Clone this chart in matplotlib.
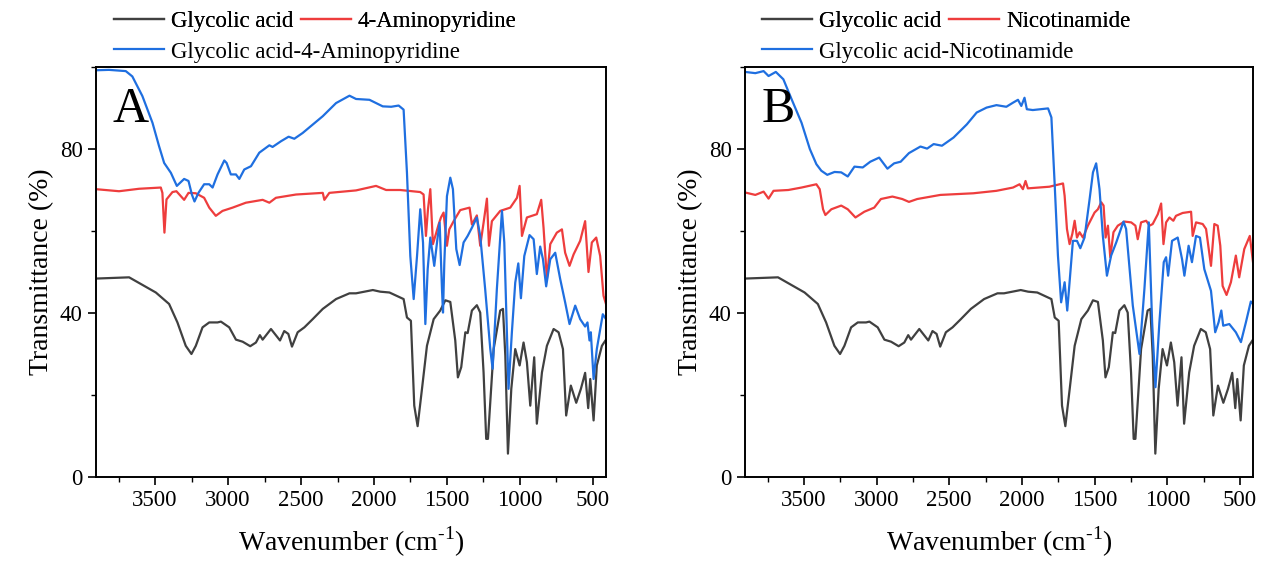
#!/usr/bin/env python3
"""FTIR spectra: glycolic acid co-crystals with 4-aminopyridine (A) and nicotinamide (B)."""

import matplotlib
matplotlib.use("Agg")
import matplotlib.pyplot as plt
from matplotlib.lines import Line2D
from matplotlib.ticker import MultipleLocator

# glycolic acid (same spectrum in both panels)
ga_wn = [3905, 3678, 3495, 3404, 3347, 3290, 3251, 3221, 3175, 3129, 3072, 3049, 2992, 2946, 2900,
         2848, 2809, 2782, 2763, 2706, 2644, 2615, 2587, 2562, 2523, 2477, 2420, 2351, 2260, 2168,
         2123, 2008, 1957, 1894, 1797, 1774, 1747, 1724, 1701, 1671, 1637, 1591, 1546, 1511, 1477,
         1443, 1425, 1402, 1374, 1358, 1329, 1295, 1272, 1249, 1231, 1219, 1180, 1135, 1116, 1100,
         1082, 1059, 1032, 1002, 975, 952, 929, 902, 884, 849, 815, 769, 735, 705, 683,
         651, 614, 582, 553, 532, 518, 495, 473, 438, 410]
ga_t = [48.4, 48.7, 45, 42.2, 37.7, 32, 30, 32, 36.5, 37.7, 37.7, 37.9, 36.5, 33.5, 33,
        31.9, 32.8, 34.6, 33.5, 36.1, 33.3, 35.6, 34.9, 31.8, 35.3, 36.5, 38.5, 41, 43.4, 44.8,
        44.8, 45.6, 45.2, 45, 43.4, 38.9, 38.1, 17.4, 12.4, 21.5, 32, 38.5, 40.6, 43.1, 42.7,
        33.3, 24.3, 26.8, 35.3, 35.1, 40.6, 41.9, 40.1, 25.5, 9.3, 9.3, 31.2, 40.6, 41, 29.6,
        5.7, 21.5, 31.2, 27.2, 32.8, 28, 17.4, 29.2, 13, 25.5, 32, 36.1, 35.3, 31.2, 15,
        22.3, 18.1, 21.5, 25.4, 16.8, 23.9, 13.8, 27.2, 32, 33.5]

# 4-aminopyridine
ap_wn = [3905, 3747, 3610, 3461, 3450, 3436, 3422, 3381, 3354, 3301, 3271, 3221, 3164, 3129, 3084,
         3038, 2969, 2878, 2763, 2717, 2672, 2534, 2351, 2340, 2306, 2123, 1986, 1917, 1820, 1683,
         1660, 1644, 1630, 1614, 1596, 1573, 1557, 1541, 1523, 1500, 1484, 1454, 1409, 1345, 1329,
         1295, 1272, 1249, 1226, 1212, 1192, 1135, 1066, 1020, 1002, 986, 952, 884, 854, 838,
         815, 792, 747, 712, 690, 660, 632, 587, 553, 530, 507, 477, 450, 427, 410]
ap_t = [70.2, 69.7, 70.3, 70.6, 69.3, 59.6, 67.7, 69.5, 69.7, 67.6, 69.3, 69.2, 68.1, 65.7, 63.7,
        64.9, 65.7, 66.9, 67.6, 66.9, 68.1, 68.9, 69.3, 67.6, 69.3, 69.9, 71, 70, 70, 69.5,
        68.9, 58.8, 65.3, 70.2, 56.8, 59.6, 61.6, 63.3, 64.5, 56.4, 60.4, 62.4, 65.1, 65.7, 61.6,
        63.8, 56.4, 62, 67.9, 56.4, 62.4, 64.9, 65.7, 68.1, 71, 58.8, 63.3, 64.1, 67.6, 60.8,
        48.3, 56.8, 59.6, 60.4, 54.7, 51.5, 54.3, 57.6, 62.4, 50, 57.2, 58.4, 53.9, 44.2, 42.2]

# glycolic acid-4-aminopyridine
ga_ap_wn = [3905, 3816, 3701, 3656, 3587, 3518, 3473, 3438, 3392, 3351, 3301, 3271, 3248, 3230, 3203,
            3164, 3129, 3106, 3072, 3026, 3010, 2981, 2946, 2923, 2889, 2843, 2786, 2717, 2695, 2637,
            2585, 2546, 2489, 2351, 2260, 2168, 2123, 2031, 1940, 1882, 1831, 1797, 1774, 1751, 1728,
            1705, 1683, 1664, 1648, 1632, 1614, 1587, 1564, 1550, 1534, 1527, 1518, 1500, 1477, 1459,
            1436, 1413, 1386, 1358, 1329, 1295, 1272, 1238, 1203, 1187, 1158, 1123, 1107, 1078, 1055,
            1032, 1011, 993, 970, 934, 906, 884, 861, 842, 820, 792, 758, 724, 690, 660,
            621, 587, 553, 537, 523, 514, 495, 473, 432, 410]
ga_ap_t = [99.2, 99.3, 99, 97.7, 92.9, 86.4, 80.7, 76.6, 74.2, 71, 72.7, 72.2, 68.9, 67.2, 69.3,
           71.4, 71.4, 70.6, 73.8, 77.2, 76.6, 73.8, 73.8, 72.7, 75, 75.8, 79.1, 80.9, 80.5, 81.9,
           83, 82.5, 83.9, 88, 91.2, 93, 92.2, 92, 90.4, 90.3, 90.6, 89.6, 74.2, 53.9, 43.4,
           53.9, 65.3, 57.2, 37.3, 50.7, 58.4, 51.5, 58.4, 62, 45.8, 40.1, 52.3, 68.5, 73, 70.2,
           55.6, 51.7, 57.2, 58.8, 60.8, 63.3, 58.8, 45.8, 31.2, 26.4, 45.8, 64.9, 57.2, 21.5, 35.3,
           47.4, 52.1, 43.6, 53.9, 59, 58, 49.5, 56.2, 53.1, 46.5, 53.1, 54.7, 48.3, 42.6, 37.3,
           41.8, 38.5, 36.7, 37.7, 33.3, 35.3, 23.9, 31.2, 39.7, 38.5]

# nicotinamide
nic_wn = [3905, 3834, 3777, 3743, 3709, 3607, 3516, 3414, 3391, 3368, 3352, 3311, 3243, 3198, 3145,
          3084, 3016, 2970, 2891, 2823, 2777, 2720, 2561, 2334, 2175, 2061, 2016, 1993, 1975, 1959,
          1811, 1717, 1706, 1690, 1672, 1653, 1637, 1621, 1603, 1580, 1546, 1500, 1477, 1454, 1438,
          1424, 1408, 1392, 1370, 1340, 1294, 1248, 1219, 1203, 1180, 1145, 1122, 1100, 1065, 1042,
          1026, 1008, 985, 958, 940, 894, 836, 825, 802, 756, 733, 699, 676, 653, 635,
          619, 592, 562, 528, 505, 470, 432, 410]
nic_t = [69.4, 68.8, 69.6, 67.9, 69.8, 70, 70.6, 71.4, 70.2, 65.3, 63.9, 65.3, 66.2, 65.3, 63.3,
         64.7, 65.7, 67.8, 68.4, 67.8, 67.1, 67.8, 68.8, 69.2, 69.8, 70.6, 71.4, 70.2, 72.2, 70.4,
         70.8, 71.6, 68.6, 60.5, 56.8, 59.3, 62.5, 58.4, 59.7, 58.4, 61.3, 64.5, 65.3, 67, 66.2,
         58.4, 61.3, 53.6, 59.7, 61.3, 62.3, 62.1, 61.3, 58, 62.1, 62.5, 61.3, 61.7, 64.1, 66.7,
         56.8, 62.1, 63.3, 62.5, 63.7, 64.4, 64.7, 58.8, 62.1, 61.7, 60.5, 51.5, 61.7, 61.3, 56.4,
         46.6, 44.4, 47.5, 54, 48.7, 55.6, 58.8, 52.4]

# glycolic acid-nicotinamide
ga_nic_wn = [3905, 3834, 3777, 3743, 3693, 3641, 3584, 3516, 3459, 3414, 3380, 3339, 3289, 3243, 3198,
             3152, 3095, 3043, 2982, 2925, 2879, 2834, 2777, 2698, 2652, 2607, 2550, 2470, 2379, 2311,
             2243, 2175, 2107, 2061, 2027, 2004, 1982, 1966, 1925, 1820, 1797, 1775, 1752, 1730, 1706,
             1688, 1672, 1649, 1621, 1598, 1569, 1534, 1511, 1489, 1466, 1443, 1415, 1386, 1351, 1301,
             1283, 1237, 1191, 1157, 1127, 1104, 1081, 1054, 1024, 1008, 994, 967, 928, 898, 882,
             853, 830, 802, 775, 745, 699, 670, 647, 628, 615, 573, 528, 493, 459, 425, 410]
ga_nic_t = [98.8, 98.5, 99, 97.8, 98.8, 97, 92.1, 86.4, 80, 76.3, 74.7, 73.7, 74.4, 74.3, 73.3,
            75.7, 75.5, 76.9, 77.9, 75.2, 76.5, 76.9, 79, 80.6, 80.1, 81.2, 80.8, 82.8, 86, 88.9,
            90.1, 90.7, 90.3, 91.3, 92, 90.5, 92.5, 89.7, 89.5, 89.9, 87.7, 71.8, 54, 42.6, 47.5,
            40.6, 47.5, 57.6, 57.6, 55.8, 58.4, 67.8, 74.3, 76.5, 70.2, 58.8, 49.1, 54, 57.2, 62.3,
            60.5, 41.8, 30, 45.9, 62.1, 37.7, 21.9, 37.7, 52.4, 53.6, 49.1, 57.6, 58.4, 53.1, 49.1,
            56.4, 52.4, 58.8, 58.4, 50.7, 45.4, 35.3, 37.7, 40.6, 36.9, 37.3, 35.3, 32.9, 37.7, 42.8, 42.2]

GRAY = "#404040"
RED = "#EE3D3D"
BLUE = "#1F6FE0"


def _panel(fig, rect, letter, partner_wn, partner_t, partner_name, mix_wn, mix_t, mix_name, leg_x):
    ax = fig.add_axes(rect)
    ax.plot(ga_wn, ga_t, color=GRAY, lw=1.6)
    ax.plot(partner_wn, partner_t, color=RED, lw=1.6)
    ax.plot(mix_wn, mix_t, color=BLUE, lw=1.6)

    ax.set_xlim(3905, 410)
    ax.set_ylim(0, 100)
    ax.xaxis.set_major_locator(MultipleLocator(500))
    ax.xaxis.set_minor_locator(MultipleLocator(250))
    ax.yaxis.set_major_locator(MultipleLocator(40))
    ax.yaxis.set_minor_locator(MultipleLocator(20))
    ax.tick_params(which="major", direction="out", length=6, width=1.2, labelsize=16.5)
    ax.tick_params(which="minor", direction="out", length=3.5, width=1.0)
    for sp in ax.spines.values():
        sp.set_linewidth(1.4)
    ax.set_xlabel(r"Wavenumber (cm$^{\text{-1}}$)", fontsize=20, labelpad=10)
    ax.set_ylabel("Transmittance (%)", fontsize=20, labelpad=4)
    ax.text(0.033, 0.895, letter, transform=ax.transAxes, fontsize=36, va="center", ha="left")

    h_ga = Line2D([], [], color=GRAY, lw=1.6)
    h_p = Line2D([], [], color=RED, lw=1.6)
    h_m = Line2D([], [], color=BLUE, lw=1.6)
    common = dict(frameon=False, fontsize=16.5, handlelength=2.2, handletextpad=0.3,
                  columnspacing=0.3, borderpad=0, borderaxespad=0, loc="center left")
    leg1 = fig.legend([h_ga, h_p], ["Glycolic acid", partner_name], ncol=2,
                      bbox_to_anchor=(leg_x, 1 - 21 / 562), **common)
    fig.add_artist(leg1)
    fig.legend([h_m], [mix_name], bbox_to_anchor=(leg_x, 1 - 52 / 562), **common)
    return ax


def main():
    plt.rcParams.update(
        {
            "font.family": ["Liberation Serif", "DejaVu Serif"],
            "mathtext.fontset": "custom",
            "mathtext.rm": "Liberation Serif",
            "figure.dpi": 100,
            "savefig.dpi": 100,
        }
    )
    fig = plt.figure(figsize=(12.61, 5.62))
    bottom = 1 - 477 / 562
    height = 410 / 562
    _panel(fig, [96 / 1261, bottom, 510 / 1261, height], "A",
           ap_wn, ap_t, "4-Aminopyridine", ga_ap_wn, ga_ap_t, "Glycolic acid-4-Aminopyridine",
           114 / 1261)
    _panel(fig, [745 / 1261, bottom, 508 / 1261, height], "B",
           nic_wn, nic_t, "Nicotinamide", ga_nic_wn, ga_nic_t, "Glycolic acid-Nicotinamide",
           762 / 1261)
    fig.savefig("out.png")
    plt.close(fig)


if __name__ == "__main__":
    main()
